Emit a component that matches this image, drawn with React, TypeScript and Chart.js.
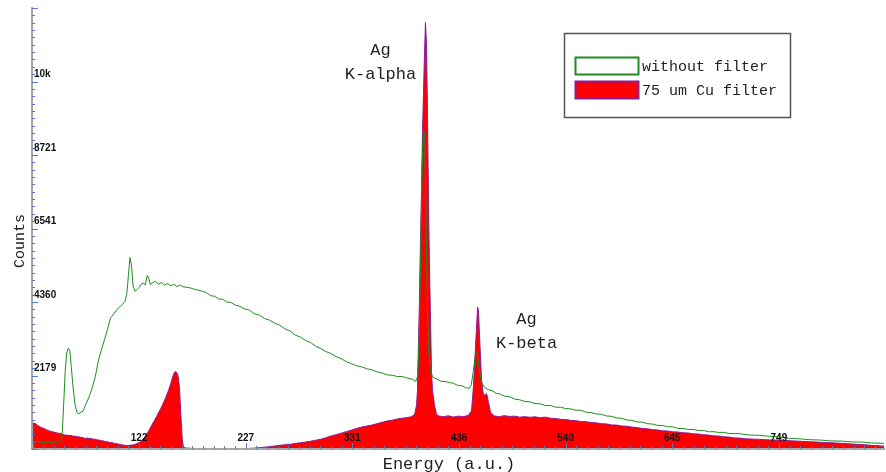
import { useEffect, useRef } from 'react';
import { Chart, registerables } from 'chart.js';

Chart.register(...registerables);

// Spectrum without filter (energy channel, counts)
const OPEN_ENERGY = [
  17, 22, 27, 32, 37, 42, 45, 46.5, 48, 49.5, 51, 52.5, 54, 55.5, 57, 59, 61, 63, 65, 67,
  70, 73, 76, 79, 82, 85, 88, 91, 94, 97, 100, 103, 106, 108, 110, 111.5, 113, 114.5, 116, 118,
  120, 122, 124, 126, 128, 130, 131.5, 133, 135, 138, 141, 144, 147, 150, 153, 156, 159, 162, 165, 168,
  172, 176, 180, 184, 188, 192, 196, 200, 204, 208, 212, 216, 220, 225, 230, 235, 240, 245, 250, 255,
  260, 265, 270, 275, 280, 285, 290, 295, 300, 305, 310, 315, 320, 325, 330, 335, 340, 345, 350, 355,
  360, 365, 370, 375, 380, 385, 390, 393, 395, 396.5, 398, 399.5, 400.7, 401.7, 403, 404.3, 405.6, 407.5, 410, 414,
  418, 422, 426, 430, 434, 438, 442, 445.5, 447.5, 449.5, 451.5, 452.7, 454, 455.6, 457.6, 460, 464, 468, 472, 476,
  480, 485, 490, 495, 500, 505, 510, 515, 520, 525, 530, 535, 540, 545, 550, 555, 560, 565, 570, 575,
  580, 585, 590, 595, 600, 605, 610, 615, 620, 625, 630, 635, 640, 645, 650, 655, 660, 665, 670, 675,
  680, 685, 690, 695, 700, 710, 720, 730, 740, 750, 760, 770, 780, 790, 800, 810, 820, 830, 840, 852,
];
const OPEN_COUNTS = [
  200, 225, 185, 210, 175, 200, 235, 380, 1300, 2300, 2850, 2990, 2930, 2450, 1900, 1350, 1090, 1040, 1095, 1120,
  1340, 1550, 1810, 2140, 2610, 2940, 3240, 3550, 3890, 4000, 4130, 4220, 4300, 4370, 4620, 5150, 5680, 5450, 4850, 4680,
  4730, 4790, 4890, 4920, 4870, 5150, 5060, 4870, 4930, 4970, 4890, 4940, 4860, 4910, 4840, 4890, 4820, 4870, 4810, 4800,
  4780, 4740, 4710, 4680, 4640, 4550, 4530, 4450, 4440, 4360, 4350, 4270, 4240, 4160, 4120, 4010, 3970, 3870, 3820, 3730,
  3670, 3560, 3500, 3380, 3320, 3220, 3160, 3050, 2980, 2890, 2830, 2740, 2680, 2590, 2530, 2470, 2440, 2380, 2350, 2290,
  2260, 2200, 2190, 2150, 2150, 2100, 2070, 2000, 2150, 3300, 5900, 8500, 9450, 9380, 7300, 4700, 2950, 2280, 2130, 2070,
  2010, 2000, 1970, 1950, 1890, 1880, 1820, 1800, 1900, 2300, 2760, 2860, 2700, 2300, 1980, 1850, 1760, 1730, 1650, 1630,
  1570, 1550, 1480, 1460, 1410, 1400, 1350, 1340, 1290, 1290, 1240, 1240, 1200, 1190, 1150, 1150, 1090, 1080, 1040, 1030,
  980, 970, 920, 910, 860, 850, 800, 800, 750, 740, 700, 700, 660, 660, 610, 610, 580, 580, 550, 550,
  510, 515, 490, 495, 460, 455, 415, 405, 375, 355, 315, 300, 275, 265, 240, 235, 210, 205, 180, 170,
];

// Spectrum with the 75 um Cu filter
const CU_ENERGY = [
  17, 19, 21, 23, 25, 27, 29, 31, 33, 35, 37, 39, 41, 43, 45, 47, 49, 51, 53, 55,
  57, 59, 61, 63, 65, 67, 69, 71, 73, 75, 77, 79, 81, 83, 85, 87, 89, 91, 93, 95,
  97, 99, 101, 103, 105, 107, 109, 111, 113, 115, 117, 119, 121, 123, 125, 127, 129, 131, 133, 135,
  137, 139, 141, 143, 145, 147, 149, 151, 153, 155, 156.5, 157.5, 159, 160.3, 161.3, 162.2, 163.2, 164.2, 165.2, 167,
  175, 185, 195, 205, 215, 225, 232, 240, 245, 250, 255, 260, 265, 270, 275, 280, 285, 290, 295, 300,
  305, 310, 315, 320, 325, 330, 335, 340, 345, 350, 355, 360, 365, 370, 375, 380, 385, 389, 392, 393.8,
  394.8, 395.8, 396.7, 397.7, 398.7, 399.7, 400.7, 401.7, 402.6, 403.6, 404.6, 405.6, 406.6, 407.6, 408.5, 409.5, 411.5, 413.4, 416, 420,
  425, 430, 435, 440, 444.8, 447.8, 449.7, 451.7, 453.7, 454.6, 455.6, 457.6, 459.5, 461.5, 462.5, 464.4, 466.4, 470, 475, 480,
  485, 490, 495, 500, 505, 510, 515, 520, 525, 530, 535, 540, 545, 550, 555, 560, 565, 570, 575, 580,
  585, 590, 595, 600, 605, 610, 615, 620, 625, 630, 635, 640, 645, 650, 655, 660, 665, 670, 675, 680,
  685, 690, 695, 700, 705, 710, 715, 720, 730, 740, 750, 760, 770, 780, 790, 800, 810, 820, 830, 840,
  852,
];
const CU_COUNTS = [
  800, 760, 745, 690, 655, 625, 605, 575, 545, 530, 515, 495, 485, 465, 465, 435, 415, 415, 400, 405,
  385, 380, 365, 360, 345, 335, 315, 325, 310, 310, 290, 290, 270, 265, 245, 240, 220, 215, 195, 195,
  170, 165, 150, 140, 125, 115, 105, 105, 110, 115, 125, 150, 180, 210, 260, 330, 420, 520, 630, 740,
  850, 960, 1080, 1190, 1320, 1450, 1600, 1760, 1940, 2150, 2270, 2300, 2260, 2150, 1880, 1440, 850, 320, 90, 30,
  15, 10, 8, 8, 10, 12, 20, 40, 55, 70, 90, 110, 125, 140, 165, 185, 205, 230, 260, 290,
  335, 385, 425, 470, 515, 560, 610, 650, 680, 710, 750, 790, 830, 855, 890, 915, 935, 960, 1030, 1290,
  1735, 3210, 4390, 6160, 7640, 9400, 10580, 11760, 12650, 12060, 9990, 7340, 5270, 3800, 2330, 1735, 1290, 1030, 975, 960,
  985, 950, 975, 960, 1000, 1145, 1880, 3060, 4210, 4095, 3360, 2030, 1590, 1620, 1645, 1380, 1090, 980, 960, 990,
  965, 975, 945, 960, 940, 955, 930, 945, 915, 905, 880, 875, 850, 840, 815, 810, 785, 775, 750, 745,
  715, 710, 685, 675, 650, 635, 610, 600, 575, 565, 540, 535, 510, 505, 480, 475, 450, 445, 420, 415,
  390, 385, 360, 355, 330, 325, 305, 300, 285, 270, 260, 245, 230, 215, 200, 185, 170, 150, 130, 110,
  85,
];

const SERIES_NAMES = ['without filter', '75 um Cu filter'];

// Axis ranges and tick marks
const X_MIN = 17;
const X_MAX = 852;
const X_TICKS = [122, 226.5, 331, 435.5, 540, 644.5, 749];
const X_TICK_LABELS = ['122', '227', '331', '436', '540', '645', '749'];
const X_MINOR_START = 17.5;
const X_MINOR_STEP = 10.45;

const Y_MIN = 0;
const Y_MAX = 13082;
const Y_TICKS = [2180.3, 4360.7, 6541, 8721.3, 10901.7];
const Y_TICK_LABELS = ['2179', '4360', '6541', '8721', '10k'];
const Y_MINOR_STEP = 218.03;

// Peak annotations, anchored in data coordinates
const PEAK_NOTES = [
  { lines: ['Ag', 'K-alpha'], energy: 358.5, counts: 11824 },
  { lines: ['Ag', 'K-beta'], energy: 501.7, counts: 3856 },
];

const GREEN = '#1e8c1e';
const RED = '#ff0000';
const PURPLE = '#8a1c9a';
const TICK_BLUE = '#5878bc';
const MONO = '"Liberation Mono", "DejaVu Sans Mono", monospace';
const TICK_FONT = { family: '"Liberation Sans", Arial, sans-serif', size: 10, weight: 'bold' as const };

const toPoints = (xs: number[], ys: number[]) => xs.map((x, i) => ({ x, y: ys[i] }));

const decorations = {
  id: 'decorations',
  afterDraw(chart: any) {
    const { ctx, chartArea: a, scales } = chart;
    const x = scales.x;
    const y = scales.y;
    ctx.save();

    // minor and major tick marks, inside the plot
    ctx.strokeStyle = TICK_BLUE;
    ctx.lineWidth = 1;
    ctx.beginPath();
    for (let k = 0; ; k++) {
      const v = Y_MIN + k * Y_MINOR_STEP;
      if (v > Y_MAX) break;
      const py = Math.round(y.getPixelForValue(v)) + 0.5;
      ctx.moveTo(a.left, py);
      ctx.lineTo(a.left + (k % 10 === 0 ? 6 : 3), py);
    }
    for (let k = 0; ; k++) {
      const v = X_MINOR_START + k * X_MINOR_STEP;
      if (v > X_MAX) break;
      const px = Math.round(x.getPixelForValue(v)) + 0.5;
      ctx.moveTo(px, a.bottom);
      ctx.lineTo(px, a.bottom - (k % 10 === 0 ? 6 : 3));
    }
    ctx.stroke();

    // axis titles
    ctx.fillStyle = '#222';
    ctx.textAlign = 'center';
    ctx.textBaseline = 'middle';
    ctx.font = `17px ${MONO}`;
    ctx.fillText('Energy (a.u.)', 449, 464);
    ctx.save();
    ctx.translate(20, 241);
    ctx.rotate(-Math.PI / 2);
    ctx.font = `15px ${MONO}`;
    ctx.fillText('Counts', 0, 0);
    ctx.restore();

    // peak labels
    ctx.font = `17px ${MONO}`;
    for (const note of PEAK_NOTES) {
      const px = x.getPixelForValue(note.energy);
      const py = y.getPixelForValue(note.counts);
      note.lines.forEach((line, i) => ctx.fillText(line, px, py + i * 24));
    }

    // legend box
    ctx.strokeStyle = '#555';
    ctx.lineWidth = 1.5;
    ctx.strokeRect(564.5, 33.5, 226, 84);
    const swatches = [
      { fill: '#ffffff', stroke: GREEN },
      { fill: RED, stroke: PURPLE },
    ];
    ctx.font = `15px ${MONO}`;
    ctx.textAlign = 'left';
    swatches.forEach((s, i) => {
      const top = 57.5 + i * 24;
      ctx.fillStyle = s.fill;
      ctx.fillRect(575.5, top, 63, 17);
      ctx.strokeStyle = s.stroke;
      ctx.lineWidth = 2;
      ctx.strokeRect(575.5, top, 63, 17);
      ctx.fillStyle = '#222';
      ctx.fillText(SERIES_NAMES[i], 642, top + 9.5);
    });

    ctx.restore();
  },
};

export default function App() {
  const canvasRef = useRef<HTMLCanvasElement | null>(null);

  useEffect(() => {
    const canvas = canvasRef.current;
    if (!canvas) return;
    const chart = new Chart(canvas, {
      type: 'line',
      data: {
        datasets: [
          {
            label: SERIES_NAMES[0],
            data: toPoints(OPEN_ENERGY, OPEN_COUNTS),
            borderColor: GREEN,
            borderWidth: 1,
            pointRadius: 0,
            fill: false,
          },
          {
            label: SERIES_NAMES[1],
            data: toPoints(CU_ENERGY, CU_COUNTS),
            borderColor: PURPLE,
            backgroundColor: RED,
            borderWidth: 1,
            pointRadius: 0,
            fill: 'origin',
          },
        ],
      },
      options: {
        animation: false,
        responsive: false,
        layout: { padding: { top: 5, right: 2, left: 0, bottom: 0 } },
        plugins: {
          legend: { display: false },
          tooltip: { enabled: false },
        },
        elements: { line: { tension: 0 } },
        scales: {
          x: {
            type: 'linear',
            min: X_MIN,
            max: X_MAX,
            afterFit: (s: any) => {
              s.height = 23;
            },
            afterBuildTicks: (s: any) => {
              s.ticks = X_TICKS.map((value) => ({ value }));
            },
            grid: { display: false, drawTicks: false },
            border: { display: true, color: '#a6a6a6', width: 2, z: 1 },
            ticks: {
              z: 1,
              mirror: true,
              padding: 5,
              autoSkip: false,
              maxRotation: 0,
              color: '#111',
              font: TICK_FONT,
              callback: (_v: any, i: number) => X_TICK_LABELS[i],
            },
          },
          y: {
            type: 'linear',
            min: Y_MIN,
            max: Y_MAX,
            afterFit: (s: any) => {
              s.width = 32;
            },
            afterBuildTicks: (s: any) => {
              s.ticks = Y_TICKS.map((value) => ({ value }));
            },
            grid: { display: false, drawTicks: false },
            border: { display: true, color: '#a6a6a6', width: 2, z: 1 },
            ticks: {
              z: 1,
              mirror: true,
              padding: 2,
              labelOffset: -7,
              color: '#111',
              font: TICK_FONT,
              callback: (_v: any, i: number) => Y_TICK_LABELS[i],
            },
          },
        },
      },
      plugins: [decorations],
    });
    return () => chart.destroy();
  }, []);

  return (
    <div style={{ position: 'fixed', left: 0, top: 0, width: 886, height: 472, background: '#fff' }}>
      <canvas ref={canvasRef} width={886} height={472} style={{ display: 'block' }} />
    </div>
  );
}
